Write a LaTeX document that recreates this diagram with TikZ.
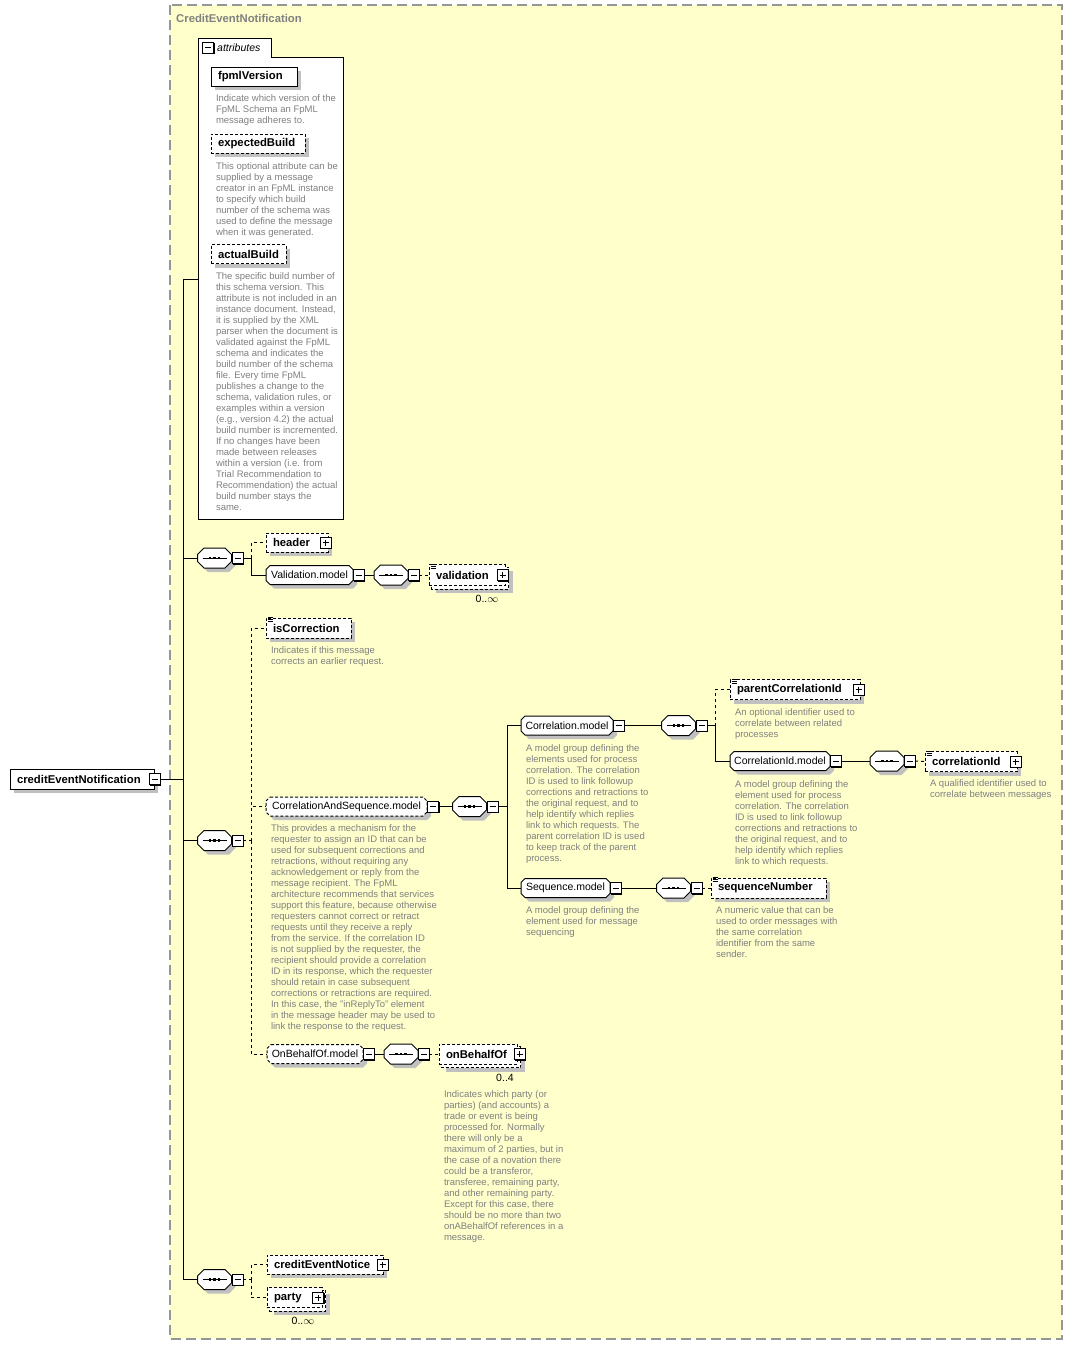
\documentclass[tikz,border=0pt]{standalone}
\usepackage{fontspec}
\setmainfont{Liberation Sans}
\usetikzlibrary{shadows,calc}
\definecolor{bgyellow}{RGB}{255,255,204}
\definecolor{descgray}{RGB}{128,128,128}
\definecolor{shadowgray}{RGB}{192,192,192}
\definecolor{framegray}{RGB}{150,150,150}
\pgfdeclarelayer{back}
\pgfsetlayers{back,main}
\tikzset{
  shad/.style={drop shadow={shadow xshift=4pt,shadow yshift=-4pt,fill=shadowgray,opacity=1}},
  elbase/.style={rectangle,draw=black,line width=1pt,fill=white,inner xsep=7pt,inner ysep=0pt,minimum height=19pt,font=\fontsize{11.3}{13}\selectfont\bfseries},
  elbox/.style={elbase,shad},
  optline/.style={dash pattern=on 3pt off 2pt},
  conn/.style={line width=1pt},
  cdash/.style={conn,dash pattern=on 3pt off 3pt},
  grp/.style={rectangle,inner sep=0pt,outer sep=0pt,minimum height=19pt,font=\fontsize{10.5}{12}\selectfont},
  comp/.style={rectangle,inner sep=0pt,outer sep=0pt,minimum width=34pt,minimum height=20pt},
  pmbase/.style={rectangle,draw=black,line width=1pt,fill=white,minimum size=11pt,inner sep=0pt,outer sep=0pt,drop shadow={shadow xshift=1pt,shadow yshift=-1pt,fill=black,opacity=1}},
  mbox/.style={pmbase,path picture={\draw[line width=1pt] ($(path picture bounding box.west)+(2.5,0)$) -- ($(path picture bounding box.east)+(-2.5,0)$);}},
  pbox/.style={pmbase,path picture={\draw[line width=1pt] ($(path picture bounding box.west)+(2.5,0)$) -- ($(path picture bounding box.east)+(-2.5,0)$) ($(path picture bounding box.north)+(0,2.5)$) -- ($(path picture bounding box.south)+(0,-2.5)$);}},
  desc/.style={anchor=north west,inner sep=0pt,outer sep=0pt,align=left,text=descgray,font=\fontsize{9.5}{11}\selectfont},
  mult/.style={inner sep=0pt,font=\fontsize{10.5}{12}\selectfont},
}
\newcommand\octshape[4]{%
  \path[#1] ($(#2.north west)+(#3+#4,#4)$) -- ($(#2.north east)+(-#3+#4,#4)$) -- ($(#2.north east)+(#4,#3+#4)$) -- ($(#2.south east)+(#4,-#3+#4)$) -- ($(#2.south east)+(-#3+#4,#4)$) -- ($(#2.south west)+(#3+#4,#4)$) -- ($(#2.south west)+(#4,-#3+#4)$) -- ($(#2.north west)+(#4,#3+#4)$) -- cycle;}
\newcommand\octo[3][]{\begin{pgfonlayer}{back}\octshape{fill=shadowgray}{#2}{#3}{4}\octshape{draw=black,line width=1pt,fill=white,#1}{#2}{#3}{0}\end{pgfonlayer}}
\newcommand\seqicon[1]{\draw[line width=1pt] ($(#1.west)+(5,0)$) -- ($(#1.east)+(-5,0)$);
  \foreach \dx in {-4.5,0,4.5} {\fill ($(#1.center)+(\dx-1.4,-1.4)$) rectangle ($(#1.center)+(\dx+1.4,1.4)$);}}
\newcommand\comp[2]{\node[comp] (#1) at (#2) {}; \octo{#1}{6.5}\seqicon{#1}}
\newcommand\grpn[5][]{\node[grp,minimum width=#4pt] (#2) at (#3) {#5}; \octo[#1]{#2}{4}}
\newcommand\elem[5][]{\pgfmathsetmacro\tw{#4-14}\node[elbox,#1,minimum width=#4pt] (#2) at (#3) {\makebox[\tw pt][l]{#5}};}
\newcommand\icon[1]{\draw[line width=0.8pt] ($(#1.north west)+(2,0)$) -- ++(5,0) ($(#1.north west)+(2,2)$) -- ++(5,0) ($(#1.north west)+(2,4)$) -- ++(5,0);}
\newcommand\multi[1]{\begin{pgfonlayer}{back}\path[fill=shadowgray] ($(#1.north west)+(7,7)$) rectangle ($(#1.south east)+(7,7)$);\path[draw=black,line width=1pt,fill=white,optline] ($(#1.north west)+(3,3)$) rectangle ($(#1.south east)+(3,3)$);\end{pgfonlayer}}
\begin{document}
\begin{tikzpicture}[x=1pt,y=-1pt]
\useasboundingbox (0,0) rectangle (1072,1345);
\begin{pgfonlayer}{back}
\path[fill=bgyellow] (170,5) rectangle (1062,1339);
\draw[framegray,line width=1.5pt,dash pattern=on 10pt off 5pt] (170,5) rectangle (1062,1339);
\end{pgfonlayer}
\node[anchor=west,inner sep=0pt,font=\fontsize{11.3}{13}\selectfont\bfseries,text=descgray] (title) at (176,18) {CreditEventNotification};
% root
\elem[minimum height=20pt]{root}{82,779}{144}{creditEventNotification}
\node[mbox] (rootm) at (154.5,779) {};
% attributes
\node[rectangle,inner sep=0pt,outer sep=0pt,minimum width=145pt,minimum height=462pt] (attrbox) at (270.5,288) {};
\node[rectangle,inner sep=0pt,outer sep=0pt,minimum width=73pt,minimum height=19pt,anchor=south west] (attrtab) at (attrbox.north west) {};
\draw[line width=1pt,fill=white] (attrtab.north west) -- (attrtab.north east) -- (attrtab.south east) -- (attrbox.north east) -- (attrbox.south east) -- (attrbox.south west) -- cycle;
\node[mbox] (attrm) at (208,47.5) {};
\node[anchor=west,inner sep=0pt,font=\fontsize{10.5}{12}\selectfont\itshape] (attrlbl) at (217,47.5) {attributes};
\elem{fpml}{254,76.5}{86}{fpmlVersion}
\node[desc] (fpmld) at (216,94.5) {Indicate which version of the\\FpML Schema an FpML\\message adheres to.};
\elem[optline]{expb}{258,143.5}{94}{expectedBuild}
\node[desc] (expbd) at (216,162.5) {This optional attribute can be\\supplied by a message\\creator in an FpML instance\\to specify which build\\number of the schema was\\used to define the message\\when it was generated.};
\elem[optline]{actb}{248.5,254}{75}{actualBuild}
\node[desc] (actbd) at (216,272.5) {The specific build number of\\this schema version. This\\attribute is not included in an\\instance document. Instead,\\it is supplied by the XML\\parser when the document is\\validated against the FpML\\schema and indicates the\\build number of the schema\\file. Every time FpML\\publishes a change to the\\schema, validation rules, or\\examples within a version\\(e.g., version 4.2) the actual\\build number is incremented.\\If no changes have been\\made between releases\\within a version (i.e. from\\Trial Recommendation to\\Recommendation) the actual\\build number stays the\\same.};
% sequence 1
\comp{s1}{214.5,558}
\node[mbox] (s1m) at (237.5,558) {};
\elem[optline]{header}{297,542.5}{62}{header}
\node[pbox] (headerp) at (325.5,542.5) {};
\grpn{valm}{309.5,575}{87}{Validation.model}
\node[mbox] (valmm) at (358.5,575) {};
\comp{s1a}{391,575}
\node[mbox] (s1am) at (413.5,575) {};
\node[elbase,optline,minimum width=76pt,minimum height=21pt] (valid) at (467,575) {\makebox[62pt][l]{validation}};
\multi{valid}
\icon{valid}
\node[pbox] (validp) at (502.5,575) {};
\node[mult] (validn) at (487,599) {0..\(\infty\)};
% sequence 2
\comp{s2}{214.5,840.5}
\node[mbox] (s2m) at (237.5,840.5) {};
\elem[optline,minimum height=20pt]{iscorr}{308.5,628}{85}{isCorrection}
\icon{iscorr}
\node[desc] (iscorrd) at (271,646.5) {Indicates if this message\\corrects an earlier request.};
\grpn[optline]{casm}{346.5,806.5}{161}{CorrelationAndSequence.model}
\node[mbox] (casmm) at (433,806.5) {};
\node[desc] (casmd) at (271,824.5) {This provides a mechanism for the\\requester to assign an ID that can be\\used for subsequent corrections and\\retractions, without requiring any\\acknowledgement or reply from the\\message recipient. The FpML\\architecture recommends that services\\support this feature, because otherwise\\requesters cannot correct or retract\\requests until they receive a reply\\from the service. If the correlation ID\\is not supplied by the requester, the\\recipient should provide a correlation\\ID in its response, which the requester\\should retain in case subsequent\\corrections or retractions are required.\\In this case, the "inReplyTo" element\\in the message header may be used to\\link the response to the request.};
\comp{s2a}{469.5,806.5}
\node[mbox] (s2am) at (492.5,806.5) {};
\grpn{corm}{567,725.5}{92}{Correlation.model}
\node[mbox] (cormm) at (618.5,725.5) {};
\node[desc] (cormd) at (526,744.5) {A model group defining the\\elements used for process\\correlation. The correlation\\ID is used to link followup\\corrections and retractions to\\the original request, and to\\help identify which replies\\link to which requests. The\\parent correlation ID is used\\to keep track of the parent\\process.};
\comp{s2b}{678.5,725.5}
\node[mbox] (s2bm) at (701.5,725.5) {};
\elem[optline,minimum height=20pt]{pci}{795,689.5}{130}{parentCorrelationId}
\icon{pci}
\node[pbox] (pcip) at (858.5,689.5) {};
\node[desc] (pcid) at (735,708.5) {An optional identifier used to\\correlate between related\\processes};
\grpn{cidm}{780,761}{100}{CorrelationId.model}
\node[mbox] (cidmm) at (835.5,761) {};
\node[desc] (cidmd) at (735,780.5) {A model group defining the\\element used for process\\correlation. The correlation\\ID is used to link followup\\corrections and retractions to\\the original request, and to\\help identify which replies\\link to which requests.};
\comp{s2c}{887,761}
\node[mbox] (s2cm) at (909.5,761) {};
\elem[optline,minimum height=20pt]{cid}{971,761.5}{92}{correlationId}
\icon{cid}
\node[pbox] (cidp) at (1015.5,761.5) {};
\node[desc] (cidd) at (930,779.5) {A qualified identifier used to\\correlate between messages};
\grpn{seqm}{565.5,888}{89}{Sequence.model}
\node[mbox] (seqmm) at (615.5,888) {};
\node[desc] (seqmd) at (526,906.5) {A model group defining the\\element used for message\\sequencing};
\comp{s2d}{673.5,888}
\node[mbox] (s2dm) at (696.5,888) {};
\elem[optline,minimum height=20pt]{sn}{768.5,888}{115}{sequenceNumber}
\icon{sn}
\node[desc] (snd) at (716,906.5) {A numeric value that can be\\used to order messages with\\the same correlation\\identifier from the same\\sender.};
\grpn[optline]{obm}{315,1054}{96}{OnBehalfOf.model}
\node[mbox] (obmm) at (368.5,1054) {};
\comp{s2e}{401,1054}
\node[mbox] (s2em) at (423.5,1054) {};
\node[elbase,optline,minimum width=78pt,minimum height=20pt] (obo) at (478,1054) {\makebox[64pt][l]{onBehalfOf}};
\multi{obo}
\node[pbox] (obop) at (519.5,1054) {};
\node[mult] (obon) at (505,1078) {0..4};
\node[desc] (obod) at (444,1090.5) {Indicates which party (or\\parties) (and accounts) a\\trade or event is being\\processed for. Normally\\there will only be a\\maximum of 2 parties, but in\\the case of a novation there\\could be a transferor,\\transferee, remaining party,\\and other remaining party.\\Except for this case, there\\should be no more than two\\onABehalfOf references in a\\message.};
% sequence 3
\comp{s3}{214.5,1279.5}
\node[mbox] (s3m) at (237.5,1279.5) {};
\elem[optline]{cen}{325,1264.5}{116}{creditEventNotice}
\node[pbox] (cenp) at (382.5,1264.5) {};
\node[elbase,optline,minimum width=55pt,minimum height=20pt] (party) at (294.5,1297.5) {\makebox[41pt][l]{party}};
\multi{party}
\node[pbox] (partyp) at (318,1297.5) {};
\node[mult] (partyn) at (303,1321) {0..\(\infty\)};
% junctions
\coordinate (tTop) at (183,279);
\coordinate (tBot) at (183,1279.5);
\coordinate (b1) at (251,558);
\coordinate (b2) at (251,840.5);
\coordinate (b3) at (507,806.5);
\coordinate (b4) at (715,725.5);
\coordinate (b5) at (251,1279.5);
% connectors
\draw[conn] (rootm.east) -- (rootm.east -| tTop);
\draw[conn] (tTop) -- (tBot);
\draw[conn] (tTop) -- (attrbox.west |- tTop);
\draw[conn] (s1.west -| tTop) -- (s1.west);
\draw[conn] (s2.west -| tTop) -- (s2.west);
\draw[conn] (s3.west -| tTop) -- (s3.west);
\draw[conn] (s1m.east) -- (b1);
\draw[cdash] (b1) |- (header.west);
\draw[conn] (b1) |- (valm.west);
\draw[conn] (valmm.east) -- (s1a.west);
\draw[cdash] (s1am.east) -- (valid.west);
\draw[cdash] (s2m.east) -- (b2);
\draw[cdash] (b2) |- (iscorr.west);
\draw[cdash] (b2) |- (casm.west);
\draw[cdash] (b2) |- (obm.west);
\draw[conn] (casmm.east) -- (s2a.west);
\draw[conn] (s2am.east) -- (b3);
\draw[conn] (b3) |- (corm.west);
\draw[conn] (b3) |- (seqm.west);
\draw[conn] (cormm.east) -- (s2b.west);
\draw[conn] (s2bm.east) -- (b4);
\draw[cdash] (b4) |- (pci.west);
\draw[conn] (b4) |- (cidm.west);
\draw[conn] (cidmm.east) -- (s2c.west);
\draw[cdash] (s2cm.east) -- (cid.west);
\draw[conn] (seqmm.east) -- (s2d.west);
\draw[cdash] (s2dm.east) -- (sn.west);
\draw[conn] (obmm.east) -- (s2e.west);
\draw[cdash] (s2em.east) -- (obo.west);
\draw[cdash] (s3m.east) -- (b5);
\draw[cdash] (b5) |- (cen.west);
\draw[cdash] (b5) |- (party.west);
\end{tikzpicture}
\end{document}
